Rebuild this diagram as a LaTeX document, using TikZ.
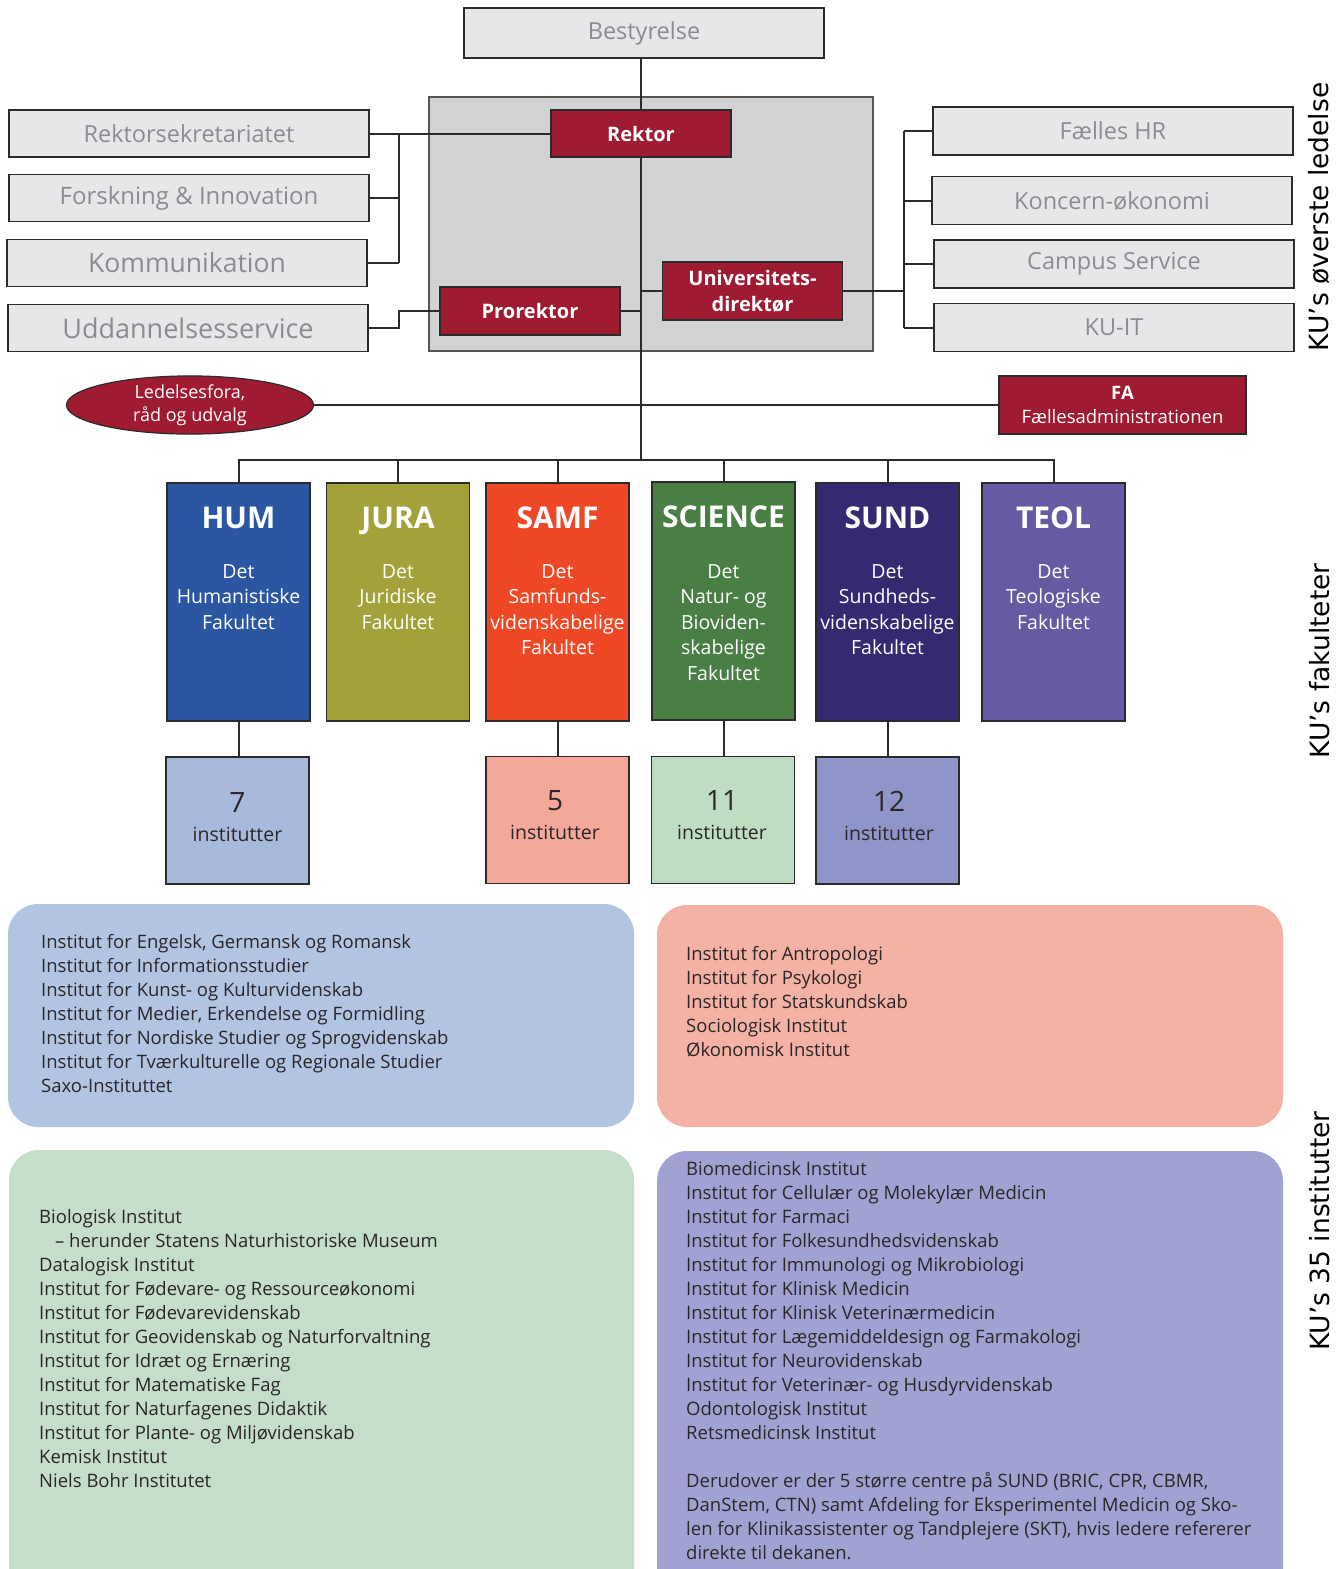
\documentclass[tikz,border=0pt]{standalone}
\usepackage{fontspec}
\setmainfont{Open Sans}
\newfontfamily\sidefont{DejaVu Sans}
\usetikzlibrary{shapes.geometric}
\definecolor{kured}{HTML}{9E1B32}
\definecolor{boxgray}{HTML}{E6E7E8}
\definecolor{biggray}{HTML}{D1D2D4}
\definecolor{linec}{HTML}{2B2B2B}
\definecolor{graytext}{HTML}{8A8C8F}
\definecolor{darktext}{HTML}{2A2628}
\definecolor{humc}{HTML}{2B56A2}
\definecolor{jurac}{HTML}{A3A139}
\definecolor{samfc}{HTML}{EE4826}
\definecolor{scic}{HTML}{497E45}
\definecolor{sundc}{HTML}{362871}
\definecolor{teolc}{HTML}{655BA2}
\definecolor{chum}{HTML}{A8BADC}
\definecolor{csamf}{HTML}{F4A89A}
\definecolor{csci}{HTML}{BFDDC2}
\definecolor{csund}{HTML}{8F95C8}
\definecolor{phum}{HTML}{B1C4E2}
\definecolor{psamf}{HTML}{F4B2A5}
\definecolor{psci}{HTML}{C5DEC9}
\definecolor{psund}{HTML}{A0A3D1}
\begin{document}
\begin{tikzpicture}[x=1pt,y=-1pt,
  graybox/.style={draw=linec, line width=1.6pt, fill=boxgray, text=graytext, minimum height=47pt, minimum width=360pt, inner sep=0pt, outer sep=0pt, font=\fontsize{23.5}{28}\selectfont},
  redbox/.style={draw=linec, line width=1.2pt, fill=kured, text=white, font=\bfseries\fontsize{20}{26}\selectfont, minimum width=180pt, inner sep=0pt, outer sep=0pt, align=center},
  conn/.style={draw=linec, line width=2pt},
  fac/.style={draw=linec, line width=1.5pt, minimum width=143pt, minimum height=238pt, inner sep=0pt, outer sep=0pt},
  abbr/.style={text=white, font=\bfseries\fontsize{30}{34}\selectfont, inner sep=0pt, anchor=base},
  fdesc/.style={text=white, font=\fontsize{19.5}{25.5}\selectfont, align=center, inner sep=0pt, anchor=north},
  cnt/.style={draw=linec, line width=1.5pt, minimum width=143pt, minimum height=127pt, inner sep=0pt, outer sep=0pt},
  cnum/.style={text=darktext, font=\fontsize{28}{32}\selectfont, inner sep=0pt},
  cword/.style={text=darktext, font=\fontsize{19.5}{24}\selectfont, inner sep=0pt, anchor=base},
  panel/.style={rounded corners=30pt, draw=none},
  ptext/.style={text=darktext, font=\fontsize{18.5}{24}\selectfont, align=left, anchor=north west, inner sep=0pt},
  side/.style={font=\sidefont\fontsize{26.5}{30}\selectfont, rotate=90, inner sep=0pt}
]
\useasboundingbox (0,0) rectangle (1344,1569);
\clip (0,0) rectangle (1344,1569);

% management background
\node[draw=linec!80, line width=1.3pt, fill=biggray, minimum width=444pt, minimum height=254pt, inner sep=0pt] (mgmt) at (651,224) {};

% top boxes
\node[graybox] (best) at (644,33) [minimum height=50pt] {Bestyrelse};
\node[redbox, minimum height=47pt] (rektor) at (641,133.5) {Rektor};
\node[redbox, minimum height=48pt] (pro) at (530,311) {Prorektor};
\node[redbox, minimum height=58pt] (univ) at (752.5,291) {Universitets-\\direktør};

\node[graybox] (rs) at (189,133.5) {Rektorsekretariatet};
\node[graybox, font=\fontsize{24}{28}\selectfont] (fi) at (189,198) {Forskning \& Innovation};
\node[graybox, font=\fontsize{26.5}{30}\selectfont] (kom) at (187,263) {Kommunikation};
\node[graybox, font=\fontsize{27}{30}\selectfont] (ud) at (188,328) {Uddannelsesservice};

\node[graybox] (fhr) at (1113,131) [minimum height=48pt] {Fælles HR};
\node[graybox] (kon) at (1112,200.5) [minimum height=48pt] {Koncern-økonomi};
\node[graybox] (cs) at (1114,264) [minimum height=48pt] {Campus Service};
\node[graybox] (kuit) at (1114,327.5) [minimum height=48pt] {KU-IT};

\node[ellipse, draw=linec, line width=1.2pt, fill=kured, text=white, minimum width=247pt, minimum height=58pt, inner sep=0pt, outer sep=0pt, align=center, font=\fontsize{18}{23}\selectfont] (led) at (190,405) {Ledelsesfora,\\råd og udvalg};
\node[draw=linec, line width=1.2pt, fill=kured, text=white, minimum width=247pt, minimum height=58pt, inner sep=0pt, outer sep=0pt, align=center, font=\fontsize{18.5}{24.5}\selectfont] (fa) at (1122.5,405) {\textbf{FA}\\Fællesadministrationen};

\coordinate (lv) at (399,0);
\coordinate (rv) at (904,0);
\coordinate (busc) at (641,460);

% connectors top
\draw[conn] (rektor.north |- best.south) -- (rektor.north);
\draw[conn] (rektor.south) -- (busc);
\draw[conn] (rektor.west) -- (rs.east);
\draw[conn] (lv |- rs.east) -- (lv |- kom.east);
\draw[conn] (fi.east) -- (fi.east -| lv);
\draw[conn] (kom.east) -- (kom.east -| lv);
\draw[conn] (ud.east) -- (ud.east -| lv) |- (pro.west);
\draw[conn] (pro.east) -- (pro.east -| busc);
\draw[conn] (univ.west) -- (univ.west -| busc);
\draw[conn] (univ.east) -- (univ.east -| rv);
\draw[conn] (rv |- fhr.west) -- (rv |- kuit.west);
\draw[conn] (fhr.west) -- (fhr.west -| rv);
\draw[conn] (kon.west) -- (kon.west -| rv);
\draw[conn] (cs.west) -- (cs.west -| rv);
\draw[conn] (kuit.west) -- (kuit.west -| rv);
\draw[conn] (led.east) -- (fa.west);

% faculties
\node[fac, fill=humc] (hum) at (238.5,602) {};
\node[fac, fill=jurac] (jura) at (398,602) {};
\node[fac, fill=samfc] (samf) at (557.5,602) {};
\node[fac, fill=scic] (sci) at (723.5,601) {};
\node[fac, fill=sundc] (sund) at (887.5,602) {};
\node[fac, fill=teolc] (teol) at (1053.5,602) {};

\node[abbr] (humA) at (238.5,528) {HUM};
\node[abbr] (juraA) at (398,528) {JURA};
\node[abbr] (samfA) at (557.5,528) {SAMF};
\node[abbr] (sciA) at (723.5,527) {SCIENCE};
\node[abbr] (sundA) at (887.5,528) {SUND};
\node[abbr] (teolA) at (1053.5,528) {TEOL};

\node[fdesc] (humD) at (238.5,564) {Det\\Humanistiske\\Fakultet};
\node[fdesc] (juraD) at (398,564) {Det\\Juridiske\\Fakultet};
\node[fdesc] (samfD) at (557.5,564) {Det\\Samfunds-\\videnskabelige\\Fakultet};
\node[fdesc] (sciD) at (723.5,564) {Det\\Natur- og\\Bioviden-\\skabelige\\Fakultet};
\node[fdesc] (sundD) at (887.5,564) {Det\\Sundheds-\\videnskabelige\\Fakultet};
\node[fdesc] (teolD) at (1053.5,564) {Det\\Teologiske\\Fakultet};

\draw[conn] (hum.north) -- (hum.north |- busc) -- (teol.north |- busc) -- (teol.north);
\draw[conn] (jura.north) -- (jura.north |- busc);
\draw[conn] (samf.north) -- (samf.north |- busc);
\draw[conn] (sci.north) -- (sci.north |- busc);
\draw[conn] (sund.north) -- (sund.north |- busc);

% institute counts
\node[cnt, fill=chum] (c7) at (237.5,820.5) {};
\node[cnt, fill=csamf] (c5) at (557.5,820) {};
\node[cnt, fill=csci] (c11) at (723,820) {};
\node[cnt, fill=csund] (c12) at (887.5,820.5) {};

\node[cnum] (n7) at (237.5,802) {7};
\node[cnum] (n5) at (555,801) {5};
\node[cnum] (n11) at (722,800) {11};
\node[cnum] (n12) at (889,801) {12};
\node[cword] (w7) at (237.5,841) {institutter};
\node[cword] (w5) at (555,839) {institutter};
\node[cword] (w11) at (722,839) {institutter};
\node[cword] (w12) at (889,840) {institutter};

\draw[conn] (hum.south) -- (c7.north -| hum.south);
\draw[conn] (samf.south) -- (c5.north -| samf.south);
\draw[conn] (sci.south) -- (c11.north -| sci.south);
\draw[conn] (sund.south) -- (c12.north -| sund.south);

% panels
\fill[panel, phum] (8,904) rectangle (634,1127);
\fill[panel, psamf] (657,905) rectangle (1283,1127);
\fill[panel, psci] (9,1150) rectangle (634,1600);
\fill[panel, psund] (657,1151) rectangle (1283,1600);

\node[ptext] (thum) at (41,934) {Institut for Engelsk, Germansk og Romansk\\
Institut for Informationsstudier\\
Institut for Kunst- og Kulturvidenskab\\
Institut for Medier, Erkendelse og Formidling\\
Institut for Nordiske Studier og Sprogvidenskab\\
Institut for Tværkulturelle og Regionale Studier\\
Saxo-Instituttet};

\node[ptext] (tsamf) at (686,946) {Institut for Antropologi\\
Institut for Psykologi\\
Institut for Statskundskab\\
Sociologisk Institut\\
Økonomisk Institut};

\node[ptext] (tsci) at (39,1209) {Biologisk Institut\\
\hspace*{16pt}– herunder Statens Naturhistoriske Museum\\
Datalogisk Institut\\
Institut for Fødevare- og Ressourceøkonomi\\
Institut for Fødevarevidenskab\\
Institut for Geovidenskab og Naturforvaltning\\
Institut for Idræt og Ernæring\\
Institut for Matematiske Fag\\
Institut for Naturfagenes Didaktik\\
Institut for Plante- og Miljøvidenskab\\
Kemisk Institut\\
Niels Bohr Institutet};

\node[ptext] (tsund) at (686,1161) {Biomedicinsk Institut\\
Institut for Cellulær og Molekylær Medicin\\
Institut for Farmaci\\
Institut for Folkesundhedsvidenskab\\
Institut for Immunologi og Mikrobiologi\\
Institut for Klinisk Medicin\\
Institut for Klinisk Veterinærmedicin\\
Institut for Lægemiddeldesign og Farmakologi\\
Institut for Neurovidenskab\\
Institut for Veterinær- og Husdyrvidenskab\\
Odontologisk Institut\\
Retsmedicinsk Institut\\[24pt]
Derudover er der 5 større centre på SUND (BRIC, CPR, CBMR,\\
DanStem, CTN) samt Afdeling for Eksperimentel Medicin og Sko-\\
len for Klinikassistenter og Tandplejere (SKT), hvis ledere refererer\\
direkte til dekanen.};

% side labels
\node[side] (s1) at (1319,217) {KU’s øverste ledelse};
\node[side] (s2) at (1320,661) {KU’s fakulteter};
\node[side] (s3) at (1320,1231) {KU’s 35 institutter};
\end{tikzpicture}
\end{document}
